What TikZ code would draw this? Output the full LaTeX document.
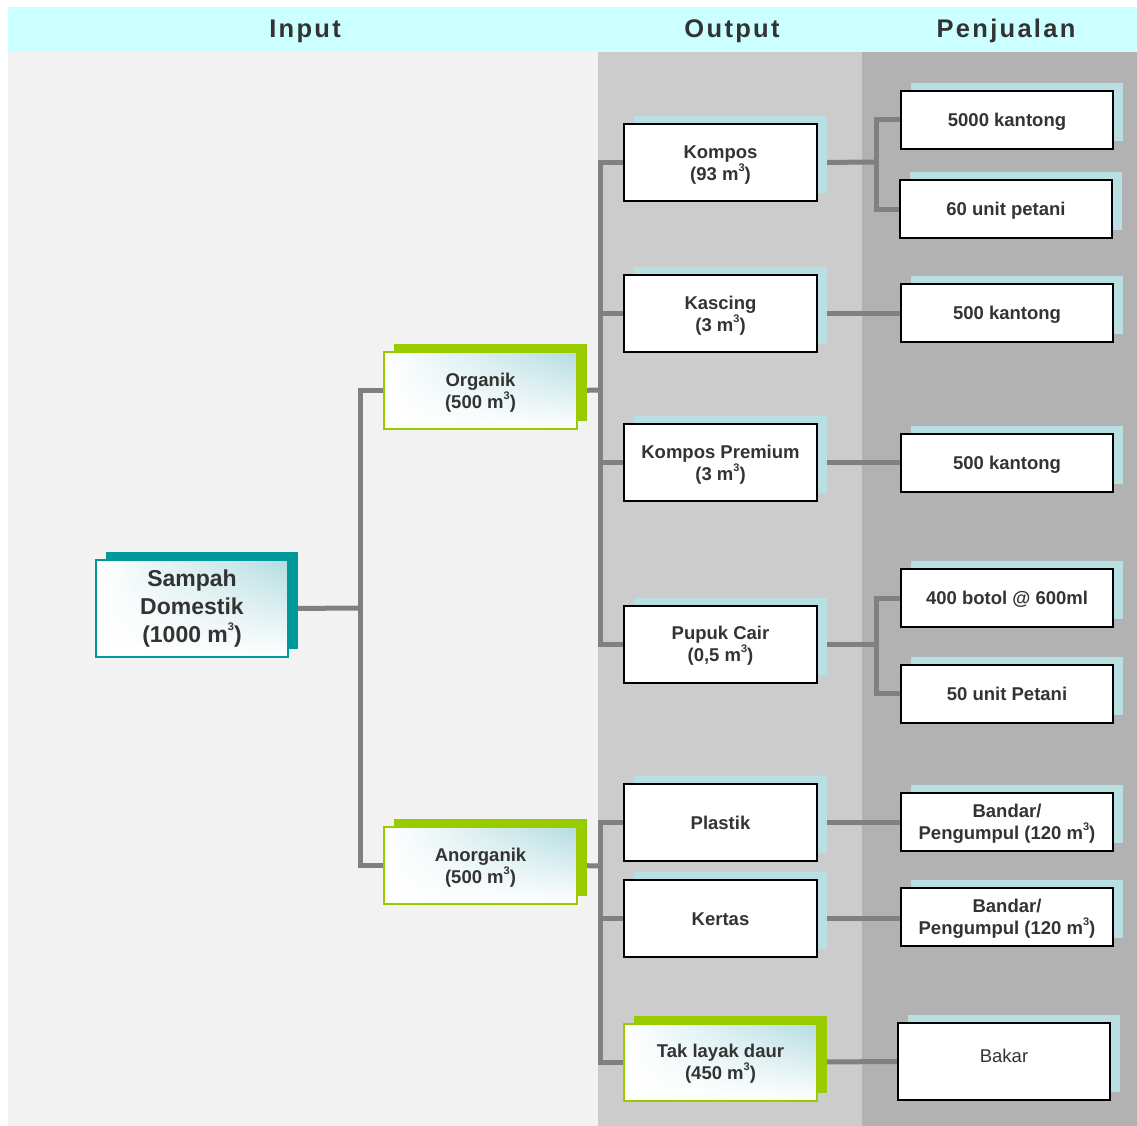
\documentclass[tikz,border=0pt]{standalone}
\usepackage{fontspec}
\setmainfont{Liberation Sans}
\usetikzlibrary{shadows,shadings,backgrounds}
\definecolor{txt}{HTML}{333333}
\definecolor{hdr}{HTML}{CCFFFF}
\definecolor{pane1}{HTML}{F2F2F2}
\definecolor{pane2}{HTML}{CCCCCC}
\definecolor{pane3}{HTML}{B2B2B2}
\definecolor{lb}{HTML}{B8E0E3}
\definecolor{lbs}{HTML}{B3DCE1}
\definecolor{grn}{HTML}{99CC00}
\definecolor{tl}{HTML}{009999}
\definecolor{lk}{HTML}{808080}
\newcommand\cub{\raisebox{0.5em}[0pt][0pt]{\fontsize{11}{11}\selectfont 3}}
\newcommand\tx[2][-2.5pt]{\raisebox{#1}[\height][\depth]{\begin{tabular}{@{}c@{}}#2\end{tabular}}}
\tikzset{
  base/.style={font=\bfseries\fontsize{18.5}{22}\selectfont, text=txt, align=center, inner sep=0pt, line width=2pt},
  outbox/.style={base, draw=black, fill=white, minimum width=193pt, minimum height=77pt,
    general shadow={fill=lb, shadow xshift=10pt, shadow yshift=8pt}},
  salebox/.style={outbox, minimum width=212pt, minimum height=58pt},
  gradfill/.style={upper left=white, upper right=lbs, lower left=white, lower right=white},
  greenbox/.style={base, draw=grn, gradfill, minimum width=193pt, minimum height=77pt,
    general shadow={fill=grn, shadow xshift=10pt, shadow yshift=8pt}},
  tealbox/.style={base, draw=tl, gradfill, font=\bfseries\fontsize{23}{28}\selectfont,
    minimum width=192pt, minimum height=97pt,
    general shadow={fill=tl, shadow xshift=10pt, shadow yshift=8pt}},
  hdrtext/.style={font=\bfseries\fontsize{25.5}{30}\selectfont\addfontfeature{LetterSpace=9}, text=txt, inner sep=0pt},
  link/.style={draw=lk, line width=5pt}
}
\begin{document}
\begin{tikzpicture}[x=1pt,y=-1pt]
\useasboundingbox (0,0) rectangle (1137,1126);

% header texts
\node[hdrtext] (hin) at (305,31) {Input};
\node[hdrtext] (hout) at (732,31) {Output};
\node[hdrtext] (hsale) at (1006,31) {Penjualan};

% input
\node[tealbox] (sd) at (192,608.5) {Sampah\\Domestik\\(1000 m\cub)};
\node[greenbox] (org) at (480.5,390.5) {\tx{Organik\\(500 m\cub)}};
\node[greenbox] (anorg) at (480.5,865.5) {\tx{Anorganik\\(500 m\cub)}};

% output
\node[outbox] (kompos) at (720.5,162.5) {\tx{Kompos\\(93 m\cub)}};
\node[outbox] (kascing) at (720.5,313.5) {\tx{Kascing\\(3 m\cub)}};
\node[outbox] (kprem) at (720.5,462.5) {\tx{Kompos Premium\\(3 m\cub)}};
\node[outbox] (pupuk) at (720.5,644) {\tx{Pupuk Cair\\(0,5 m\cub)}};
\node[outbox] (plastik) at (720.5,822.5) {\tx{Plastik}};
\node[outbox] (kertas) at (720.5,918.5) {\tx{Kertas}};
\node[greenbox] (tak) at (720.5,1062) {\tx{Tak layak daur\\(450 m\cub)}};

% sales
\node[salebox] (s1) at (1007,120) {\tx{5000 kantong}};
\node[salebox] (s2) at (1006,209) {\tx{60 unit petani}};
\node[salebox] (s3) at (1007,313) {\tx{500 kantong}};
\node[salebox] (s4) at (1007,463) {\tx{500 kantong}};
\node[salebox] (s5) at (1007,598) {\tx{400 botol @ 600ml}};
\node[salebox] (s6) at (1007,693.5) {\tx{50 unit Petani}};
\node[salebox] (s7) at (1007,822) {\tx{Bandar/\\Pengumpul (120 m\cub)}};
\node[salebox] (s8) at (1007,917) {\tx{Bandar/\\Pengumpul (120 m\cub)}};
\node[salebox, minimum height=77pt, font=\fontsize{18.5}{22}\selectfont] (s9) at (1004,1061.5) {\tx[3pt]{Bakar}};

\begin{scope}[on background layer]
  \fill[hdr] (8,7) rectangle (1137,52);
  \fill[pane1] (8,52) rectangle (598,1126);
  \fill[pane2] (598,52) rectangle (862,1126);
  \fill[pane3] (862,52) rectangle (1137,1126);

  \coordinate (b1) at (360,608);
  \coordinate (b2) at (600,390);
  \coordinate (b3) at (600,866);
  \coordinate (b4) at (876,162);
  \coordinate (b5) at (876,644);

  \draw[link] (sd.east) -- (b1);
  \draw[link] (b1) |- (org.west);
  \draw[link] (b1) |- (anorg.west);

  \draw[link] (org.east) -- (b2);
  \draw[link] (b2) |- (kompos.west);
  \draw[link] (b2) |- (kascing.west);
  \draw[link] (b2) |- (kprem.west);
  \draw[link] (b2) |- (pupuk.west);

  \draw[link] (anorg.east) -- (b3);
  \draw[link] (b3) |- (plastik.west);
  \draw[link] (b3) |- (kertas.west);
  \draw[link] (b3) |- (tak.west);

  \draw[link] (kompos.east) -- (b4);
  \draw[link] (b4) |- (s1.west);
  \draw[link] (b4) |- (s2.west);
  \draw[link] (kascing.east) -- (kascing.east -| s3.west);
  \draw[link] (kprem.east) -- (kprem.east -| s4.west);
  \draw[link] (pupuk.east) -- (b5);
  \draw[link] (b5) |- (s5.west);
  \draw[link] (b5) |- (s6.west);
  \draw[link] (plastik.east) -- (plastik.east -| s7.west);
  \draw[link] (kertas.east) -- (kertas.east -| s8.west);
  \draw[link] (tak.east) -- (s9.west);
\end{scope}
\end{tikzpicture}
\end{document}
